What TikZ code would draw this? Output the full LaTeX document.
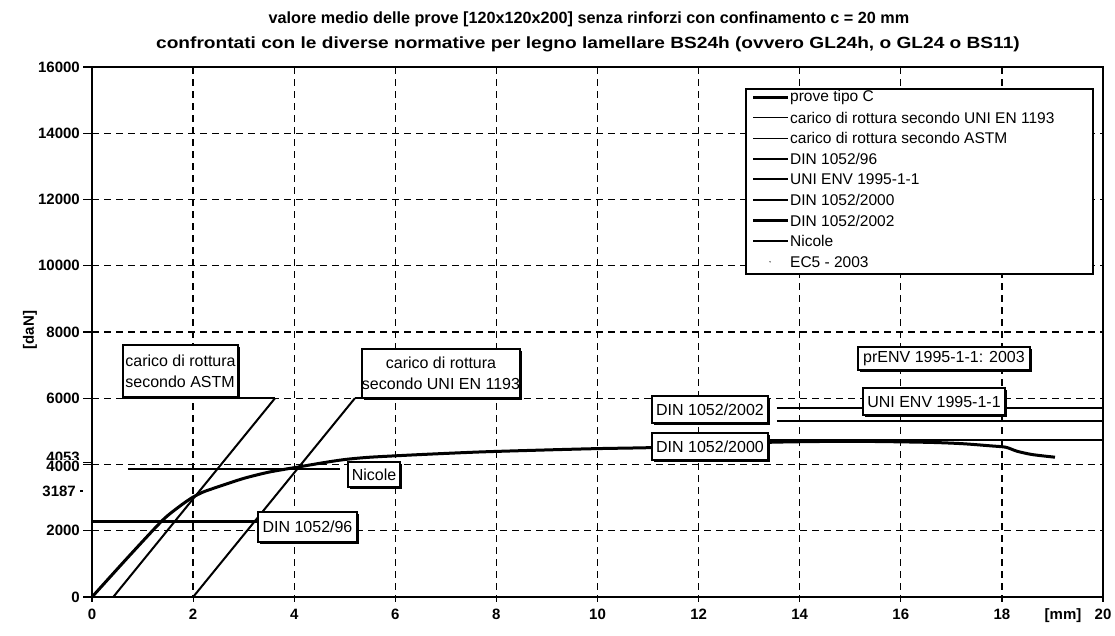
\documentclass[tikz,border=0pt]{standalone}
\usepackage{fontspec}
\setmainfont{Liberation Sans}
\usetikzlibrary{shadows}
\begin{document}
\begin{tikzpicture}[x=1pt,y=-1pt,
  gridline/.style={line width=1.3pt, dash pattern=on 7pt off 5pt},
  lbl/.style={draw, fill=white, line width=1.1pt, inner sep=0pt, align=center,
    font=\fontsize{16}{21}\selectfont,
    drop shadow={shadow xshift=1.8pt, shadow yshift=-1.8pt, opacity=1, fill=black}},
  ticklbl/.style={font=\bfseries\fontsize{15}{18}\selectfont, inner sep=0pt},
  legtxt/.style={font=\fontsize{15.5}{18}\selectfont, anchor=west, inner sep=0pt},
  titletxt/.style={font=\bfseries\fontsize{16.2}{19}\selectfont, inner sep=0pt},
  testline/.style={line width=3pt, line join=round},
  refline/.style={line width=2pt},
  hline/.style={line width=2.4pt}]
\useasboundingbox (0,0) rectangle (1115,635);
\fill[white] (0,0) rectangle (1115,635);

% titles
\node[titletxt] (t1) at (589,19) {valore medio delle prove [120x120x200] senza rinforzi con confinamento c = 20 mm};
\node[titletxt] (t2) at (588,44) {\scalebox{1.18}[1]{confrontati con le diverse normative per legno lamellare BS24h (ovvero GL24h, o GL24 o BS11)}};

% grid
\foreach \p in {133.25,199.5,265.75,332,398.25,464.5,530.75}
  \draw[gridline] (92,\p) -- (1103,\p);
\foreach \m in {2,4,...,18}
  \draw[gridline] ({92+50.55*\m},67) -- ({92+50.55*\m},597);

% y tick labels
\foreach \v/\p in {16000/67,14000/133.25,12000/199.5,10000/265.75,8000/332,6000/398.25,2000/530.75,0/597}{
  \node[ticklbl, anchor=east] (yl\v) at (80,\p) {\v};
  \draw[line width=1.2pt] (83,\p) -- (92,\p);
}
\node[ticklbl, anchor=east] (yl4053) at (80,457) {4053};
\node[ticklbl, anchor=east, fill=white, inner ysep=0.5pt] (yl4000) at (80,466) {4000};
\draw[line width=1.2pt] (83,462.6) -- (92,462.6);
\draw[line width=1.2pt] (83,464.5) -- (92,464.5);
\node[ticklbl, anchor=east] (yl3187) at (76,491) {3187};
\draw[line width=1.2pt] (80,491) -- (83,491);

% x tick labels
\foreach \m in {0,2,...,20}{
  \node[ticklbl] (xl\m) at ({92+50.55*\m},614) {\m};
  \draw[line width=1.2pt] ({92+50.55*\m},597) -- ({92+50.55*\m},602);
}
\node[ticklbl] (xunit) at (1063,616) {[mm]};
\node[ticklbl, rotate=90] (yunit) at (30,330) {[daN]};

% data
\begin{scope}[shift={(92,597)}, x=50.55pt, y=0.033125pt]
  % reference lines
  \draw[refline] (0.42,0) -- (3.62,6000);
  \draw[hline] (0.61,6000) -- (3.62,6000);
  \draw[refline] (2.0,0) -- (5.2,6000);
  \draw[hline] (5.2,6000) -- (8.47,6000);
  \draw[hline] (0,2280) -- (3.3,2280);
  \draw[line width=2pt] (0.71,3860) -- (4.9,3860);
  \draw[hline] (13.55,5700) -- (20,5700);
  \draw[hline] (13.55,5310) -- (20,5310);
  \draw[hline] (13.37,4740) -- (20,4740);
  % test curve
  \draw[testline] plot[smooth, tension=0.45] coordinates {
    (0,0) (0.7,1180) (1.38,2293) (1.7,2700) (1.97,2990) (2.2,3170) (2.5,3330)
    (3.0,3580) (3.5,3770) (4.1,3930) (4.6,4060) (5.0,4150) (5.5,4220) (6.5,4300)
    (7.7,4380) (9,4440) (10,4480) (11.07,4510) (12,4570) (13.4,4670) (15,4700)
    (16.5,4670) (17.2,4630) (17.8,4560) (18.08,4520) (18.3,4400) (18.6,4300) (19.05,4220)};
\end{scope}

% labels on the chart
\node[lbl, minimum width=115pt, minimum height=52pt, align=left] (bastm) at (180.5,371)
  {carico di rottura\\secondo ASTM};
\node[lbl, minimum width=158pt, minimum height=49pt] (buni) at (441,373.5)
  {carico di rottura\\secondo UNI EN 1193};
\node[lbl, minimum width=99pt, minimum height=30pt] (bdin96) at (307.5,527) {DIN 1052/96};
\node[lbl, minimum width=52pt, minimum height=25pt] (bnic) at (374,474.5) {Nicole};
\node[lbl, minimum width=116pt, minimum height=27pt] (bdin02) at (710,409.5) {DIN 1052/2002};
\node[lbl, minimum width=116pt, minimum height=27pt] (bdin00) at (710,446.5) {DIN 1052/2000};
\node[lbl, minimum width=142pt, minimum height=27pt] (benv) at (934,401.5) {UNI ENV 1995-1-1};
\node[lbl, minimum width=172pt, minimum height=23pt] (bpr) at (944,358.5) {prENV 1995-1-1: 2003};

% legend
\node[draw, fill=white, line width=1.2pt, minimum width=347pt, minimum height=185pt, inner sep=0pt] (leg) at (919.5,181.5) {};
\foreach \i/\w/\t in {0/3pt/{prove tipo C},
  1/1pt/{carico di rottura secondo UNI EN 1193},
  2/1pt/{carico di rottura secondo ASTM},
  3/2.5pt/{DIN 1052/96},
  4/2pt/{UNI ENV 1995-1-1},
  5/2pt/{DIN 1052/2000},
  6/2.6pt/{DIN 1052/2002},
  7/1.8pt/{Nicole}}{
  \draw[line width=\w] (753,{97+20.6*\i}) -- (788,{97+20.6*\i});
  \node[legtxt] (lg\i) at (790,{97+20.6*\i}) {\t};
}
\fill (770,261.8) circle (0.7pt);
\node[legtxt] (lg8) at (790,261.8) {EC5 - 2003};

% frame
\draw[line width=2pt] (92,67) rectangle (1103,597);
\end{tikzpicture}
\end{document}
